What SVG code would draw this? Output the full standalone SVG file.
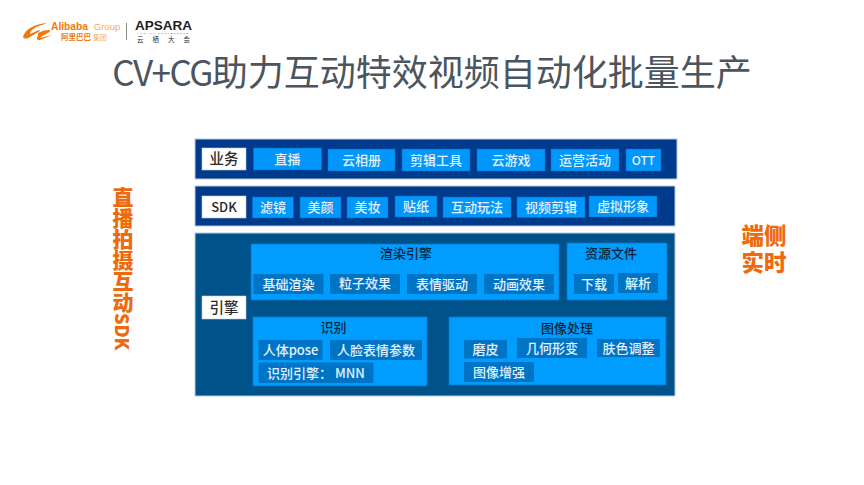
<svg xmlns="http://www.w3.org/2000/svg" width="864" height="485" viewBox="0 0 864 485">
<style>
text{font-family:"Noto Sans CJK SC","Noto Sans",sans-serif;text-anchor:middle}
.band{stroke:#b9cbdc;stroke-width:1}
.navy{fill:#003a8c}
.deep{fill:#00528a}
.white{fill:#fff;stroke:#b9cbdc;stroke-width:.6}
.wt{font-size:14.5px;fill:#2a2a2a;font-weight:500}
.btn{fill:#0096fa;stroke:#0a6cc0;stroke-width:.5}
.panel{fill:#009dff;stroke:#0a74c4;stroke-width:.8}
.sub{fill:#0074c4}
.bt{font-size:13px;fill:#e2f1fb;font-weight:500}
.pt{font-size:13px;fill:#0d2438;font-weight:500}
.side{font-size:22.500px;font-weight:900;fill:#ef6a0c}
.title{font-size:36px;fill:#4a5560}
</style>
<rect width="864" height="485" fill="#fff"/>
<g id="logo">
<path d="M23 37C25 29 35 24 47 23L42 25C34 27 30 31 30 34L39 30L40 31L30 37C27 39 24 39 23 37ZM38 33C44 30 50 29 50 31C50 33 42 35 40 38L52 35L40 40C37 41 36 38 38 36Z" fill="#f2780c"/>
<text x="69.500" y="30" font-size="10" font-weight="700" fill="#f2780c" style="font-family:'Liberation Sans',sans-serif" textLength="37" lengthAdjust="spacingAndGlyphs">Alibaba</text>
<text x="107" y="30" font-size="9.500" fill="#f5a86a" style="font-family:'Liberation Sans',sans-serif">Group</text>
<text x="76" y="40" font-size="7.500" font-weight="700" fill="#f2780c">阿里巴巴</text>
<text x="100" y="40" font-size="7" fill="#f5b27a">集团</text>
<rect x="126" y="23" width="1" height="17" fill="#8a8f94"/>
<text x="163.500" y="30" font-size="12" font-weight="700" fill="#1f2326" style="font-family:'Liberation Sans',sans-serif" textLength="57" lengthAdjust="spacingAndGlyphs">APSARA</text>
<text x="163.500" y="33.800" font-size="2.500" fill="#555" letter-spacing="1.400" style="font-family:'Liberation Sans',sans-serif">APSARA CONFERENCE</text>
<text x="168" y="42" font-size="6.500" fill="#333" letter-spacing="9">云栖大会</text>
</g>
<text id="title" class="title" x="432" y="86"><tspan font-size="35" letter-spacing="-1.500">CV+CG</tspan>助力互动特效视频自动化批量生产</text>
<g id="side-left"><text class="side" x="123" y="187" style="writing-mode:vertical-rl;text-anchor:start;font-size:21px">直播拍摄互动<tspan font-size="18">SDK</tspan></text></g>
<g id="side-right"><text class="side"><tspan x="764" y="244">端侧</tspan><tspan x="764" y="271">实时</tspan></text></g>

<g id="band-business">
<rect class="band navy" x="195" y="139" width="482" height="40"/>
<rect class="white" x="202" y="148" width="44" height="22"/><text class="wt" x="224" y="164">业务</text>
<rect class="btn" x="253.500" y="148" width="68" height="22"/><text class="bt" x="287.500" y="164">直播</text>
<rect class="btn" x="328" y="149" width="67" height="22"/><text class="bt" x="361.500" y="165">云相册</text>
<rect class="btn" x="402" y="149" width="68" height="22"/><text class="bt" x="436" y="165">剪辑工具</text>
<rect class="btn" x="477" y="149" width="68" height="22"/><text class="bt" x="511" y="165">云游戏</text>
<rect class="btn" x="551" y="149" width="68" height="22"/><text class="bt" x="585" y="165">运营活动</text>
<rect class="btn" x="626" y="149" width="35" height="22"/><text class="bt" x="643.500" y="165" style="font-size:12px">OTT</text>
</g>
<g id="band-sdk">
<rect class="band navy" x="195" y="186" width="480" height="40"/>
<rect class="white" x="202" y="196" width="44" height="22"/><text class="wt" x="224" y="212" style="font-size:13px">SDK</text>
<rect class="btn" x="252.500" y="197" width="41" height="21"/><text class="bt" x="273" y="212">滤镜</text>
<rect class="btn" x="300" y="197" width="41" height="21"/><text class="bt" x="320.500" y="212">美颜</text>
<rect class="btn" x="347" y="197" width="41" height="21"/><text class="bt" x="367.500" y="212">美妆</text>
<rect class="btn" x="395" y="196" width="42" height="21"/><text class="bt" x="416" y="211">贴纸</text>
<rect class="btn" x="443" y="197" width="68" height="20.500"/><text class="bt" x="477" y="212">互动玩法</text>
<rect class="btn" x="517" y="197" width="68" height="20.500"/><text class="bt" x="551" y="212">视频剪辑</text>
<rect class="btn" x="589" y="196" width="68" height="21"/><text class="bt" x="623" y="211">虚拟形象</text>
</g>
<g id="band-engine">
<rect class="band deep" x="195" y="233" width="480" height="163"/>
<rect class="white" x="202" y="296" width="44" height="23"/><text class="wt" x="224" y="312.500">引擎</text>
</g>
<g id="panel-render">
<rect class="panel" x="251" y="244" width="308" height="56"/><text class="pt" x="406" y="258">渲染引擎</text>
<rect class="sub" x="253.500" y="274" width="70" height="20"/><text class="bt" x="288.500" y="288.500">基础渲染</text>
<rect class="sub" x="330" y="274" width="70" height="20"/><text class="bt" x="365" y="288">粒子效果</text>
<rect class="sub" x="407" y="274" width="70" height="20"/><text class="bt" x="442" y="288.500">表情驱动</text>
<rect class="sub" x="484" y="274" width="70" height="20"/><text class="bt" x="519" y="288.500">动画效果</text>
</g>
<g id="panel-resource">
<rect class="panel" x="567" y="243" width="100" height="57"/><text class="pt" x="611" y="258">资源文件</text>
<rect class="sub" x="574" y="274" width="40" height="20"/><text class="bt" x="594" y="288.500">下载</text>
<rect class="sub" x="618" y="273" width="40" height="20"/><text class="bt" x="638" y="287.500">解析</text>
</g>
<g id="panel-recognition">
<rect class="panel" x="253" y="317" width="174" height="69"/><text class="pt" x="333.500" y="332">识别</text>
<rect class="sub" x="258.500" y="340" width="64" height="20"/><text class="bt" x="290.500" y="354.500">人体pose</text>
<rect class="sub" x="330" y="340" width="92" height="20"/><text class="bt" x="376" y="354.500">人脸表情参数</text>
<rect class="sub" x="258.500" y="362.500" width="115" height="20.500"/><text class="bt" x="316" y="377.500" xml:space="preserve">识别引擎： MNN</text>
</g>
<g id="panel-image">
<rect class="panel" x="449" y="317" width="217" height="68"/><text class="pt" x="567" y="333">图像处理</text>
<rect class="sub" x="464" y="340" width="43" height="18.500"/><text class="bt" x="485.500" y="354">磨皮</text>
<rect class="sub" x="517" y="338" width="70" height="20"/><text class="bt" x="552" y="352.500">几何形变</text>
<rect class="sub" x="597" y="339" width="63" height="18"/><text class="bt" x="628.500" y="353">肤色调整</text>
<rect class="sub" x="464" y="362" width="70" height="20"/><text class="bt" x="499" y="376.500">图像增强</text>
</g>
<g id="connectors"></g>
</svg>
